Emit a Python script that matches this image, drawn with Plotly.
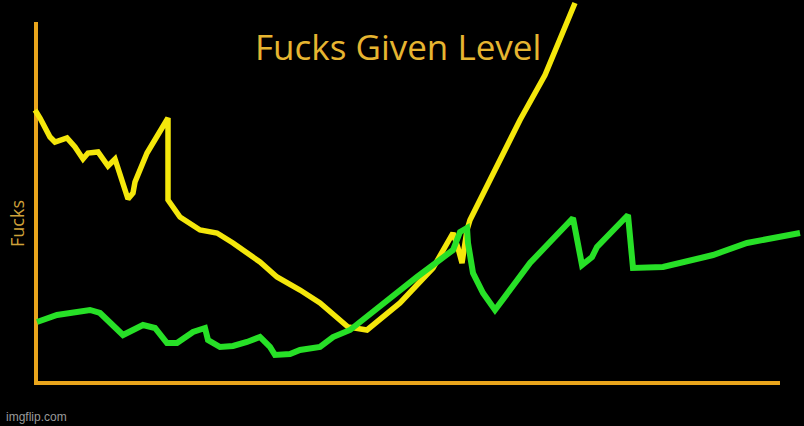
import plotly.graph_objects as go

# Time (x) and "fucks" (y) values
yellow_x = [-1, 4, 14, 19, 31, 39, 47, 52, 62, 72, 79, 86, 92, 97, 99, 111, 124, 132, 132, 137, 144,
            164, 181, 197, 224, 241, 264, 284, 301, 312, 331, 344, 364, 397, 417, 422, 426, 431, 434,
            454, 484, 509, 524, 539]
yellow_y = [273, 265, 246, 241, 245, 236, 224, 230, 231, 217, 224, 203, 184, 190, 201, 230, 253, 265, 183,
            175, 166, 153, 150, 140, 121, 106, 93, 80, 66, 56, 53, 63, 80, 115, 150, 135, 120, 153, 163,
            203, 263, 308, 343, 380]

green_x = [1, 21, 54, 64, 87, 107, 119, 131, 141, 157, 169, 172, 184, 197, 211, 224, 234, 239, 254, 264,
           284, 297, 314, 347, 381, 417, 424, 431, 432, 437, 447, 459, 477, 494, 514, 537, 546, 556, 561,
           592, 597, 627, 677, 711, 764]
green_y = [61, 68, 73, 70, 48, 58, 55, 40, 40, 51, 55, 43, 36, 37, 41, 46, 36, 28, 29, 33, 36, 46, 53,
           80, 106, 133, 151, 155, 140, 110, 90, 73, 96, 120, 141, 165, 118, 126, 136, 168, 115, 116, 128,
           140, 150]

title_text = "Fucks Given Level"
y_label = "Fucks"
watermark = "imgflip.com"

axis_color = "#E9A51C"
fig = go.Figure()
fig.add_trace(go.Scatter(x=yellow_x, y=yellow_y, mode="lines",
                         line=dict(color="#F4E70B", width=5.5), hoverinfo="skip"))
fig.add_trace(go.Scatter(x=green_x, y=green_y, mode="lines",
                         line=dict(color="#27E027", width=6), hoverinfo="skip"))

fig.add_shape(type="line", x0=0, y0=0, x1=744, y1=0, line=dict(color=axis_color, width=4), layer="below")
fig.add_shape(type="line", x0=0, y0=-2, x1=0, y1=361, line=dict(color=axis_color, width=4), layer="below")

fig.add_annotation(text=title_text, xref="paper", yref="paper", x=398 / 804, y=1 - 46 / 426,
                   showarrow=False, font=dict(family="Open Sans", size=35, color="#E6B531"),
                   xanchor="center", yanchor="middle")
fig.add_annotation(text=y_label, xref="paper", yref="paper", x=17 / 804, y=1 - 224 / 426,
                   showarrow=False, textangle=-90, font=dict(family="Open Sans", size=18, color="#CFA23A"),
                   xanchor="center", yanchor="middle")
fig.add_annotation(text=watermark, xref="paper", yref="paper", x=4 / 804, y=1 - 417 / 426,
                   showarrow=False, font=dict(family="Liberation Sans", size=12, color="#9A9A9A"),
                   xanchor="left", yanchor="middle")

fig.update_layout(
    width=804, height=426,
    margin=dict(l=0, r=0, t=0, b=0),
    paper_bgcolor="black", plot_bgcolor="black",
    showlegend=False,
    xaxis=dict(range=[-36, 768], visible=False, fixedrange=True),
    yaxis=dict(range=[-43, 383], visible=False, fixedrange=True),
)
fig.write_html("out.html", config={"displayModeBar": False},
               post_script="document.body.style.margin='0';document.body.style.background='black';")
